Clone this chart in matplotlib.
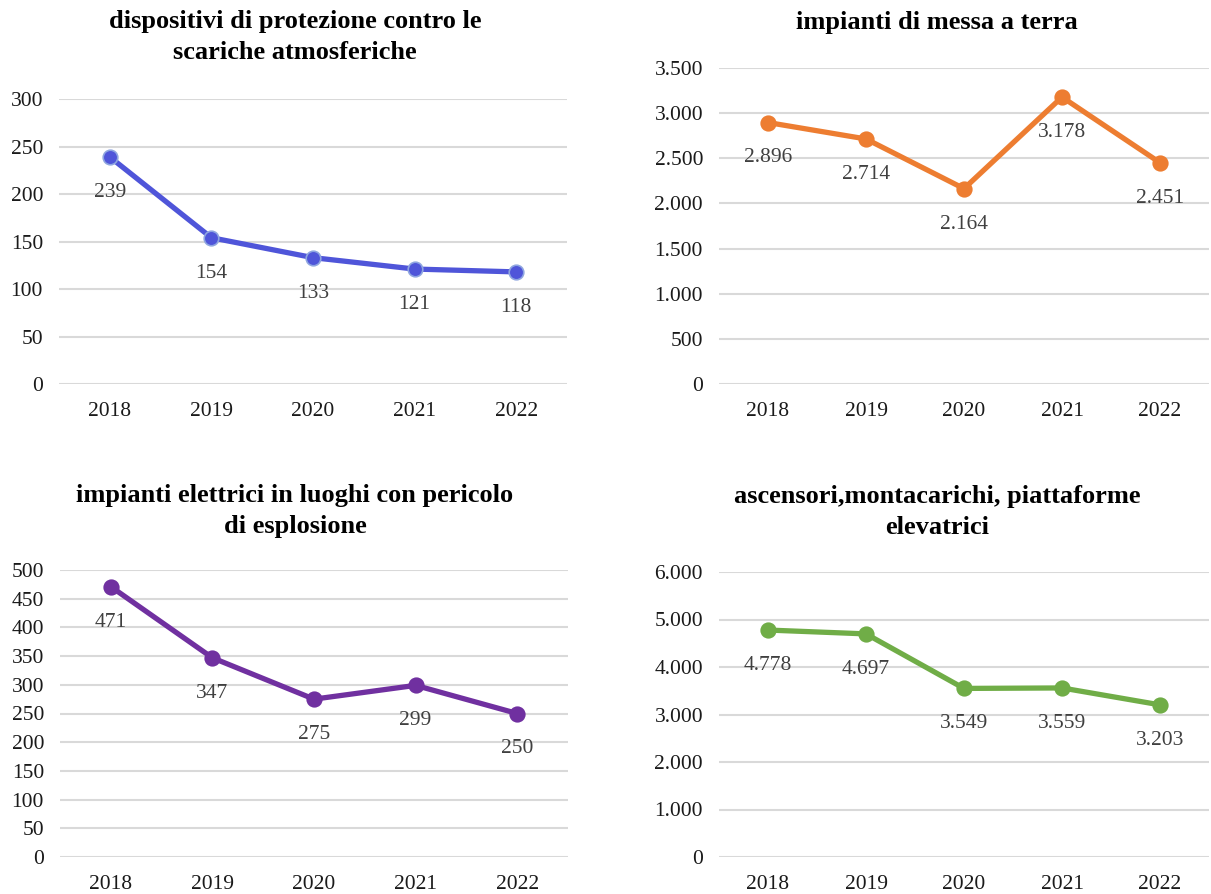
import matplotlib.pyplot as plt

plt.rcParams["font.family"] = ["Liberation Serif", "DejaVu Serif"]

# DATA
YEARS = ["2018", "2019", "2020", "2021", "2022"]
SPD = [239, 154, 133, 121, 118]
TERRA = [2896, 2714, 2164, 3178, 2451]
ESPLOSIONE = [471, 347, 275, 299, 250]
ASCENSORI = [4778, 4697, 3549, 3559, 3203]

TITLES = ["dispositivi di protezione contro le\nscariche atmosferiche",
          "impianti di messa a terra",
          "impianti elettrici in luoghi con pericolo\ndi esplosione",
          "ascensori,montacarichi, piattaforme\nelevatrici"]
COLORS = ["#4F55D9", "#ED7D31", "#7030A0", "#70AD47"]
EDGES = ["#8FA6E0", "#ED7D31", "#7030A0", "#70AD47"]

W, H = 1211, 894


def px_axes(fig, left, right, top, bottom):
	"""Axes from pixel box"""
	return fig.add_axes([left / W, 1 - bottom / H,
	                     (right - left) / W, (bottom - top) / H])


def fmt(v):
	return f"{v:,}".replace(",", ".")


def panel(ax, values, color, edge, ymax, step):
	x = range(len(YEARS))
	ax.plot(x, values, c=color, lw=3.8, marker="o", ms=10.5,
	        mfc=color, mec=edge, mew=1.2, zorder=4)
	for xi, v in zip(x, values):
		ax.annotate(fmt(v), (xi, v), xytext=(0, -25.5),
		            textcoords="offset points", ha="center", va="center",
		            fontsize=15.5, color="#404040")
	ax.set_xlim(-0.5, len(YEARS) - 0.5)
	ax.set_ylim(0, ymax)
	ticks = list(range(0, ymax + 1, step))
	ax.set_yticks(ticks)
	ax.set_yticklabels([fmt(t) for t in ticks])
	ax.set_xticks(list(x))
	ax.set_xticklabels(YEARS)
	ax.tick_params(length=0, labelsize=15.5, labelcolor="#1a1a1a",
	               pad=13)
	ax.tick_params(axis="y", pad=11.5)
	ax.grid(axis="y", color="#D9D9D9", lw=1.5, zorder=0)
	for s in ax.spines.values():
		s.set_visible(False)


def title(fig, text, xc, top):
	fig.text(xc / W, 1 - top / H, text, ha="center", va="top",
	         fontsize=19, fontweight="bold", linespacing=1.45,
	         multialignment="center")


fig = plt.figure(figsize=(W / 100, H / 100), dpi=100)

ax1 = px_axes(fig, 59, 567, 99, 384)
panel(ax1, SPD, COLORS[0], EDGES[0], 300, 50)
title(fig, TITLES[0], 295, 10)

ax2 = px_axes(fig, 719, 1209, 68, 384)
panel(ax2, TERRA, COLORS[1], EDGES[1], 3500, 500)
title(fig, TITLES[1], 937, 11)

ax3 = px_axes(fig, 60, 568, 570, 857)
panel(ax3, ESPLOSIONE, COLORS[2], EDGES[2], 500, 50)
title(fig, TITLES[2], 295, 484)

ax4 = px_axes(fig, 719, 1209, 572, 857)
panel(ax4, ASCENSORI, COLORS[3], EDGES[3], 6000, 1000)
title(fig, TITLES[3], 937, 485)

plt.savefig("out.png", dpi=100)
plt.close()
